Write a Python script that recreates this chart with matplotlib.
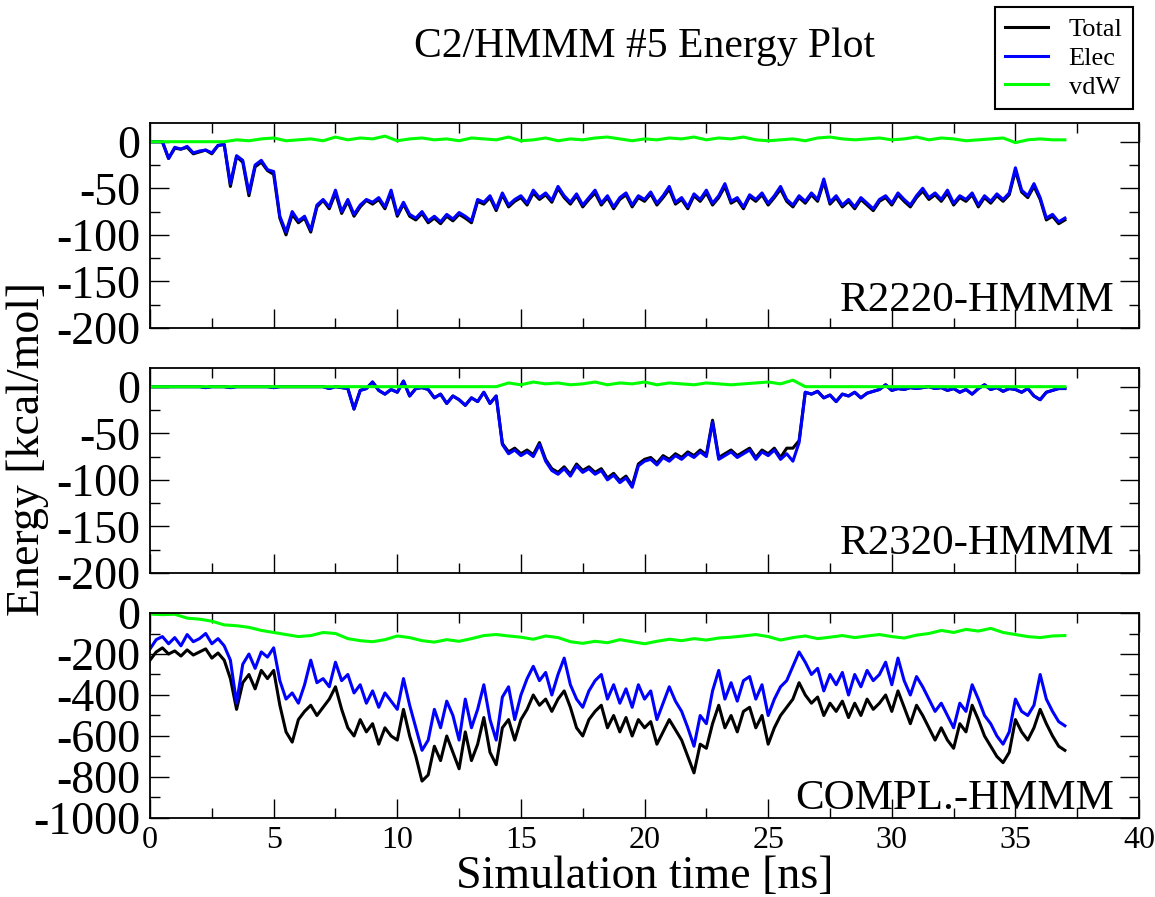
import numpy as np
import matplotlib
matplotlib.use("Agg")
import matplotlib.pyplot as plt
from matplotlib.ticker import MultipleLocator
from matplotlib.lines import Line2D

plt.rcParams['font.family'] = ['Liberation Serif', 'DejaVu Serif']
plt.rcParams['axes.unicode_minus'] = False

# sampling of the values (ns)
dt_fine = 0.25   # Elec / Total
dt_vdw = 0.5     # vdW

# ---- R2220-HMMM ----
r2220_elec = [
    0, 0, 0, -18, -6, -8, -5, -12,
    -10, -9, -12, -4, -3, -45, -15, -20,
    -55, -25, -20, -30, -32, -80, -97, -75,
    -85, -80, -95, -68, -62, -70, -52, -75,
    -62, -78, -68, -62, -65, -60, -70, -52,
    -78, -65, -78, -82, -75, -85, -80, -86,
    -78, -83, -76, -80, -85, -62, -65, -58,
    -72, -55, -68, -62, -58, -66, -52, -60,
    -55, -63, -48, -58, -65, -56, -68, -60,
    -52, -66, -58, -70, -60, -55, -68, -58,
    -62, -54, -66, -58, -48, -65, -60, -70,
    -56, -62, -52, -66, -58, -45, -64, -60,
    -70, -57, -62, -55, -66, -58, -48, -62,
    -68, -58, -64, -55, -62, -40, -65, -58,
    -68, -62, -70, -60, -66, -72, -62, -58,
    -66, -55, -62, -68, -58, -50, -60, -55,
    -62, -52, -66, -58, -62, -55, -68, -58,
    -64, -56, -62, -55, -28, -52, -58, -45,
    -60, -82, -78, -86, -82,
]
r2220_total = [
    0, 0, 0, -18, -7, -8, -6, -13,
    -11, -9, -13, -4, -3, -48, -16, -22,
    -58, -27, -22, -31, -35, -82, -100, -78,
    -87, -82, -97, -70, -63, -72, -55, -77,
    -64, -80, -70, -63, -67, -62, -72, -55,
    -80, -67, -80, -84, -77, -87, -82, -88,
    -80, -85, -78, -82, -87, -64, -67, -60,
    -74, -57, -70, -64, -60, -68, -55, -62,
    -57, -65, -50, -60, -67, -58, -70, -62,
    -55, -68, -60, -72, -62, -57, -70, -60,
    -64, -56, -68, -60, -51, -67, -62, -72,
    -58, -64, -55, -68, -60, -48, -66, -62,
    -72, -59, -64, -57, -68, -60, -51, -64,
    -70, -60, -66, -57, -64, -43, -67, -60,
    -70, -64, -72, -62, -68, -74, -64, -60,
    -68, -57, -64, -70, -60, -53, -62, -57,
    -64, -55, -68, -60, -64, -57, -70, -60,
    -66, -58, -64, -57, -31, -54, -60, -48,
    -62, -84, -80, -88, -84,
]
r2220_vdw = [
    0, 0, 0, 0, 0, 0, 0, 2,
    1, 3, 4, 1, 2, 3, 1, 5,
    2, 4, 3, 6, 1, 3, 4, 2,
    3, 1, 4, 3, 2, 5, 1, 2,
    4, 1, 3, 2, 4, 5, 3, 1,
    3, 2, 4, 3, 5, 2, 4, 3,
    5, 2, 1, 2, 3, 1, 4, 5,
    3, 2, 3, 4, 2, 3, 5, 2,
    4, 3, 1, 2, 3, 4, -1, 2,
    3, 2, 2,
]

# ---- R2320-HMMM ----
r2320_elec = [
    0, 0, 0, 0, 0, 0, 0, 0,
    0, -1, 0, 0, 0, -1, 0, 0,
    0, 0, 0, 0, -1, 0, 0, 0,
    0, 0, 0, 0, 0, -2, 0, -1,
    -2, -24, -4, -2, 5, -4, -8, -3,
    -6, 6, -10, -2, -1, -3, -12, -8,
    -18, -10, -14, -20, -12, -16, -6, -18,
    -10, -62, -72, -68, -74, -70, -75, -62,
    -80, -90, -94, -88, -96, -85, -92, -88,
    -94, -90, -100, -95, -103, -98, -108, -85,
    -80, -78, -84, -76, -80, -74, -78, -72,
    -76, -70, -75, -38, -78, -74, -70, -76,
    -72, -68, -78, -70, -74, -68, -78, -72,
    -80, -60, -6, -8, -5, -12, -9, -16,
    -8, -10, -6, -12, -7, -5, -3, 2,
    -4, -2, -3, -1, -2, -1, 0, -2,
    -1, -4, -2, -6, -3, -8, -2, 2,
    -3, -1, -5, -2, -3, -6, -2, -10,
    -14, -6, -4, -2, -2,
]
r2320_total = [
    0, 0, 0, 0, 0, 0, 0, 0,
    0, -1, 0, 0, 0, -1, 0, 0,
    0, 0, 0, 0, -1, 0, 0, 0,
    0, 0, 0, 0, 0, -2, 0, -1,
    -2, -24, -4, -2, 5, -4, -8, -3,
    -6, 6, -10, -2, -1, -3, -12, -8,
    -18, -10, -14, -20, -12, -16, -6, -18,
    -10, -61, -70, -66, -72, -68, -73, -60,
    -78, -88, -92, -86, -94, -83, -90, -86,
    -92, -88, -98, -93, -101, -96, -106, -83,
    -78, -76, -82, -74, -78, -72, -76, -70,
    -74, -68, -73, -36, -76, -72, -68, -74,
    -70, -66, -76, -68, -72, -66, -76, -66,
    -66, -58, -6, -8, -5, -12, -9, -16,
    -8, -10, -6, -12, -7, -5, -3, 2,
    -4, -2, -3, -1, -2, -1, 0, -2,
    -1, -4, -2, -6, -3, -8, -2, 2,
    -3, -1, -5, -2, -3, -6, -2, -10,
    -14, -6, -4, -2, -2,
]
r2320_vdw = [
    0, 0, 0, 0, 0, 0, 0, 0,
    0, 0, 0, 0, 0, 0, 0, 0,
    0, 0, 0, 0, 0, 0, 0, 0,
    0, 0, 0, 0, 0, 4, 2, 5,
    3, 4, 2, 3, 5, 2, 4, 3,
    5, 2, 4, 3, 2, 4, 3, 2,
    3, 4, 5, 3, 7, 0, 0, 0,
    0, 0, 0, 0, 0, 0, 0, 0,
    0, 0, 0, 0, 0, 0, 0, 0,
    0, 0, 0,
]

# ---- COMPL.-HMMM ----
compl_elec = [
    -175, -130, -115, -150, -120, -160, -105, -140,
    -125, -100, -150, -125, -160, -230, -440, -250,
    -200, -270, -190, -215, -170, -330, -420, -390,
    -440, -350, -230, -340, -320, -360, -240, -330,
    -300, -390, -350, -440, -380, -460, -390, -430,
    -470, -320, -450, -560, -670, -620, -470, -560,
    -430, -500, -620, -420, -560, -470, -350, -520,
    -620, -410, -360, -520, -400, -320, -260, -330,
    -290, -400, -300, -220, -350, -420, -460, -380,
    -330, -300, -420, -350, -440, -370, -460, -350,
    -420, -380, -520, -440, -360, -430, -480, -560,
    -650, -500, -540, -380, -280, -420, -340, -430,
    -330, -310, -420, -350, -500, -420, -360, -330,
    -260, -190, -240, -300, -270, -380, -300, -350,
    -290, -400, -300, -360, -280, -330, -300, -240,
    -350, -220, -330, -400, -310, -360, -420, -480,
    -440, -500, -560, -440, -480, -350, -420, -500,
    -540, -600, -640, -580, -420, -480, -500, -450,
    -300, -420, -480, -530, -550,
]
compl_total = [
    -230, -190, -170, -200, -185, -210, -180, -205,
    -190, -175, -220, -195, -230, -320, -470, -340,
    -300, -370, -280, -320, -280, -450, -580, -630,
    -520, -480, -450, -500, -460, -420, -360, -470,
    -560, -600, -520, -580, -540, -640, -560, -600,
    -620, -470, -600, -700, -820, -790, -650, -720,
    -600, -680, -760, -580, -720, -640, -510, -680,
    -740, -560, -520, -620, -520, -470, -400, -450,
    -420, -480, -420, -380, -460, -560, -600, -520,
    -480, -450, -560, -500, -580, -510, -600, -520,
    -560, -530, -640, -580, -520, -570, -620, -700,
    -780, -640, -660, -540, -450, -560, -500, -580,
    -480, -460, -560, -500, -640, -560, -500, -460,
    -420, -340, -400, -440, -410, -500, -440, -480,
    -430, -510, -440, -500, -420, -470, -440, -400,
    -480, -380, -460, -540, -450, -500, -560, -620,
    -560, -620, -660, -540, -580, -450, -520, -600,
    -650, -700, -730, -680, -520, -580, -620, -560,
    -470, -540, -600, -650, -670,
]
compl_vdw = [
    -5, -8, -6, -25, -30, -40, -58, -62,
    -70, -85, -95, -105, -115, -110, -95, -100,
    -125, -135, -140, -130, -112, -120, -135, -142,
    -130, -138, -125, -110, -105, -112, -118, -128,
    -112, -120, -140, -148, -138, -145, -130, -140,
    -150, -138, -128, -135, -125, -132, -122, -118,
    -112, -105, -115, -132, -120, -112, -125, -118,
    -110, -120, -112, -105, -115, -122, -108, -100,
    -85, -95, -80, -88, -75, -95, -105, -115,
    -120, -112, -110,
]

series_colors = {"Total": "black", "Elec": "blue", "vdW": "#00ff00"}


def times(values, dt):
    return np.arange(len(values)) * dt


def energy_panel(ax, total, elec, vdw, label, ylim, major, minor, label_y):
    ax.plot(times(total, dt_fine), total, color=series_colors["Total"], lw=2.2)
    ax.plot(times(elec, dt_fine), elec, color=series_colors["Elec"], lw=2.2)
    ax.plot(times(vdw, dt_vdw), vdw, color=series_colors["vdW"], lw=2.2)
    ax.set_xlim(0, 40)
    ax.set_ylim(*ylim)
    ax.xaxis.set_major_locator(MultipleLocator(5))
    ax.xaxis.set_minor_locator(MultipleLocator(2.5))
    ax.yaxis.set_major_locator(MultipleLocator(major))
    ax.yaxis.set_minor_locator(MultipleLocator(minor))
    ax.tick_params(which='both', direction='in', top=True, right=True, width=1.0)
    ax.tick_params(which='major', length=14)
    ax.tick_params(which='minor', length=7)
    ax.tick_params(axis='y', labelsize=33, pad=7)
    ax.tick_params(axis='x', labelsize=23, pad=6)
    for sp in ax.spines.values():
        sp.set_linewidth(1.3)
    ax.text(0.975, label_y, label, transform=ax.transAxes, ha='right',
            va='baseline', fontsize=31)


fig = plt.figure(figsize=(11.55, 8.97), dpi=100)

left, width, height = 0.1299, 0.8563, 0.2285
ax1 = fig.add_axes([left, 0.6343, width, height])
ax2 = fig.add_axes([left, 0.3612, width, height], sharex=ax1)
ax3 = fig.add_axes([left, 0.0881, width, height], sharex=ax1)

energy_panel(ax1, r2220_total, r2220_elec, r2220_vdw, "R2220-HMMM",
             (-200, 20), 50, 25, 0.083)
energy_panel(ax2, r2320_total, r2320_elec, r2320_vdw, "R2320-HMMM",
             (-200, 20), 50, 25, 0.093)
energy_panel(ax3, compl_total, compl_elec, compl_vdw, "COMPL.-HMMM",
             (-1000, 0), 200, 100, 0.044)

ax1.tick_params(labelbottom=False)
ax2.tick_params(labelbottom=False)

ax3.set_xlabel("Simulation time [ns]", fontsize=33, labelpad=0)
fig.text(0.024, 0.50, "Energy [kcal/mol]", rotation=90, fontsize=33,
         ha='center', va='center')
fig.text(0.558, 0.948, "C2/HMMM #5 Energy Plot", fontsize=30,
         ha='center', va='center')

handles = [Line2D([], [], color=series_colors[k], lw=2.2) for k in series_colors]
leg = fig.legend(handles, list(series_colors), loc='upper right',
                 bbox_to_anchor=(0.981, 0.992), fontsize=19, frameon=True,
                 fancybox=False, edgecolor='black', framealpha=1,
                 handlelength=1.6, handletextpad=0.8, labelspacing=0.2,
                 borderpad=0.4, borderaxespad=0.0)
leg.get_frame().set_linewidth(1.5)

fig.savefig("out.png", dpi=100)
